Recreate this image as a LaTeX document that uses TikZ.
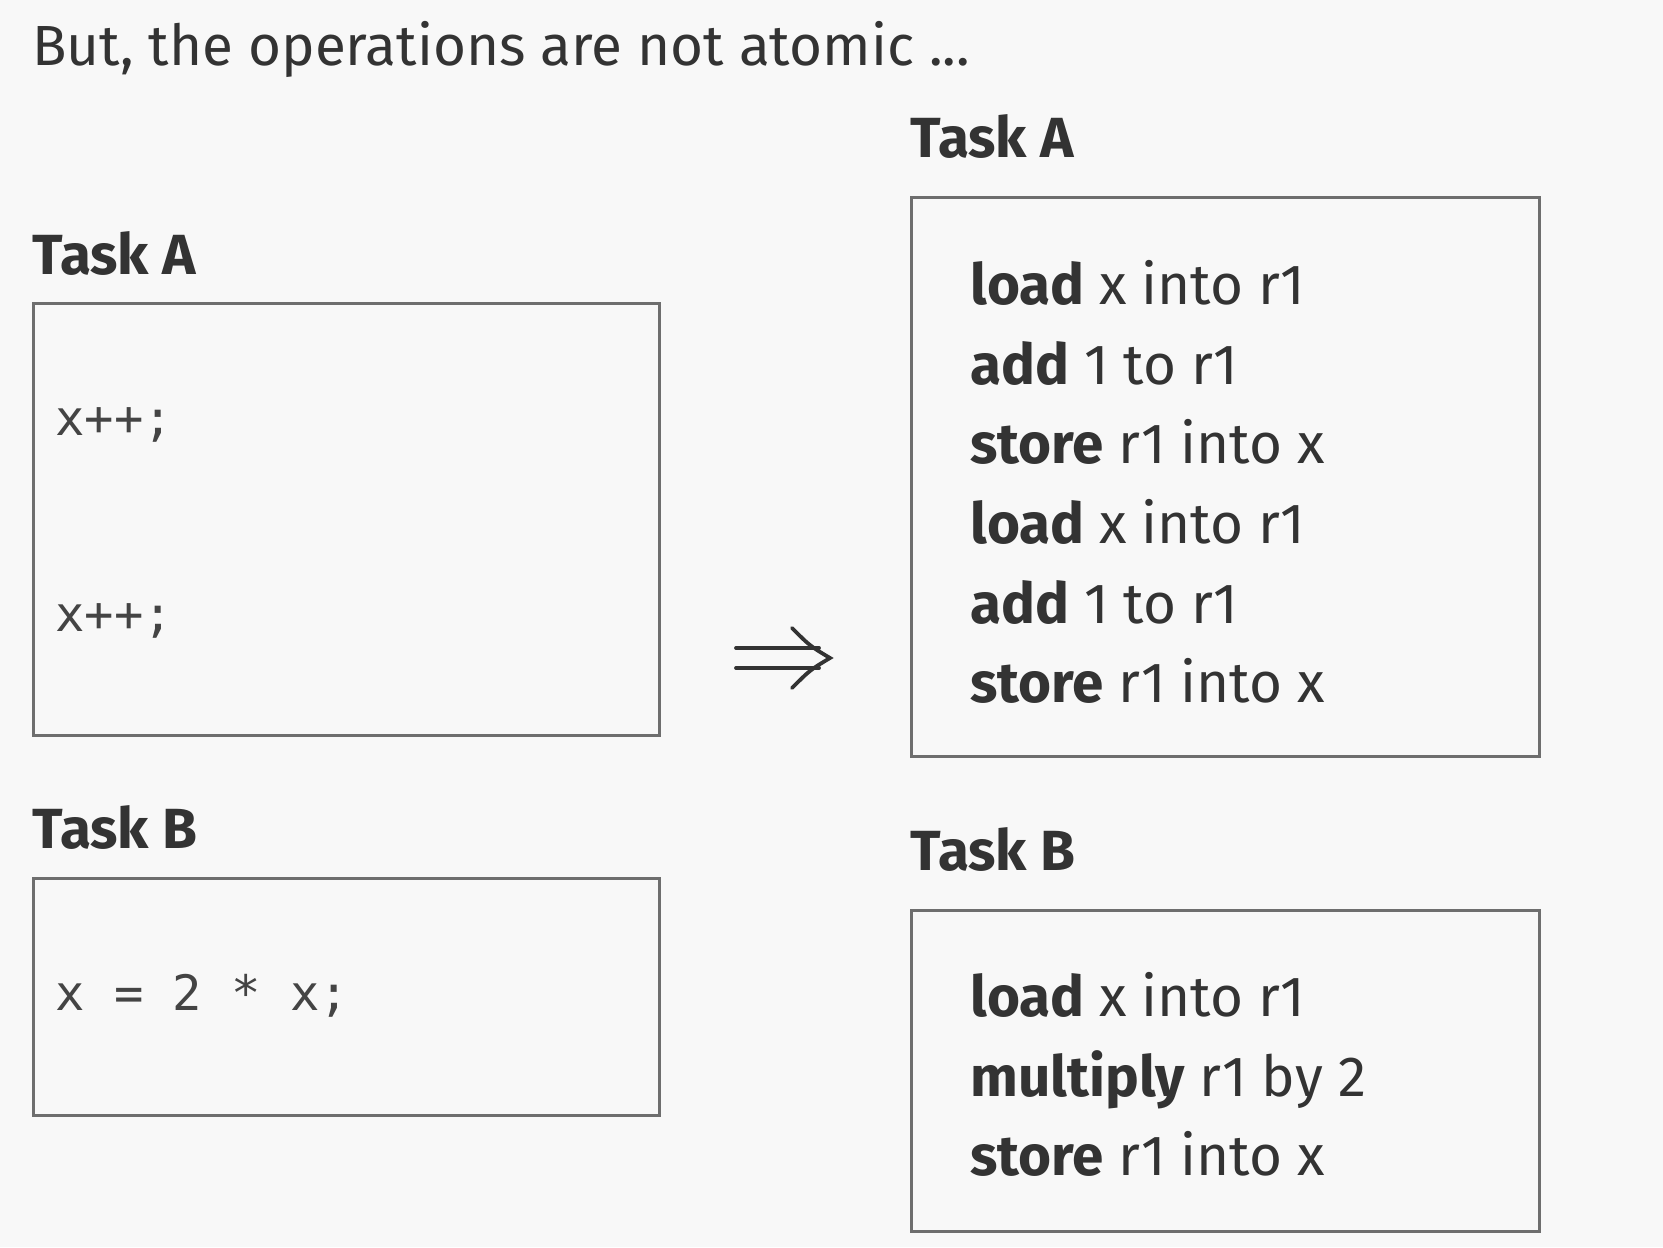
\documentclass[tikz,border=0pt]{standalone}
\usepackage{fontspec}
\setmainfont{Fira Sans}
\newfontfamily\codefont{DejaVu Sans Mono}
\definecolor{bgc}{HTML}{F8F8F8}
\definecolor{txt}{HTML}{333333}
\definecolor{boxc}{HTML}{6E6E6E}
\definecolor{codec}{HTML}{444444}
\begin{document}
\begin{tikzpicture}[x=0.5pt,y=-0.5pt,
  lbl/.style={anchor=base west,inner sep=0pt,text=txt,font=\fontsize{28.3}{34}\selectfont},
  head/.style={lbl,font=\fontsize{28.3}{34}\selectfont\bfseries},
  code/.style={anchor=base west,inner sep=0pt,text=codec,font=\fontsize{24.4}{28}\selectfont\codefont},
  frame/.style={draw=boxc,line width=1.25pt,fill=none,inner sep=0pt,anchor=north west},
  arr/.style={draw=txt,line width=1.9pt,line cap=round}]
\fill[bgc] (0,0) rectangle (1663,1247);
\useasboundingbox (0,0) rectangle (1663,1247);
% title
\node[lbl] (title) at (32,66) {But, the operations are not atomic ...};
% left side
\node[head] (lA) at (32,274) {Task A};
\node[frame,minimum width=313pt,minimum height=216pt] (boxLA) at (32,302) {};
\node[code] (c1) at (55,435) {x++;};
\node[code] (c2) at (55,631) {x++;};
\node[head] (lB) at (32,848) {Task B};
\node[frame,minimum width=313pt,minimum height=118.5pt] (boxLB) at (32,877) {};
\node[code] (c3) at (55,1010) {x = 2 * x;};
% right side
\node[head] (rA) at (910,157) {Task A};
\node[frame,minimum width=314pt,minimum height=279.5pt] (boxRA) at (910,196) {};
\node[lbl] (a1) at (970,304) {\textbf{load} x into r1};
\node[lbl] (a2) at (970,384) {\textbf{add} 1 to r1};
\node[lbl] (a3) at (970,463) {\textbf{store} r1 into x};
\node[lbl] (a4) at (970,543) {\textbf{load} x into r1};
\node[lbl] (a5) at (970,623) {\textbf{add} 1 to r1};
\node[lbl] (a6) at (970,702) {\textbf{store} r1 into x};
\node[head] (rB) at (910,870) {Task B};
\node[frame,minimum width=314pt,minimum height=160.5pt] (boxRB) at (910,909) {};
\node[lbl] (b1) at (970,1016) {\textbf{load} x into r1};
\node[lbl] (b2) at (970,1096) {\textbf{multiply} r1 by 2};
\node[lbl] (b3) at (970,1175) {\textbf{store} r1 into x};
% implication arrow
\coordinate (s1) at (736,648);
\coordinate (e1) at (819,648);
\coordinate (s2) at (736,668);
\coordinate (e2) at (819,668);
\coordinate (tip) at (830,658);
\coordinate (ht) at (792,628);
\coordinate (hb) at (792,688);
\draw[arr] (s1) -- (e1);
\draw[arr] (s2) -- (e2);
\draw[arr] (ht) .. controls (810,646) .. (tip) .. controls (810,670) .. (hb);
\end{tikzpicture}
\end{document}
